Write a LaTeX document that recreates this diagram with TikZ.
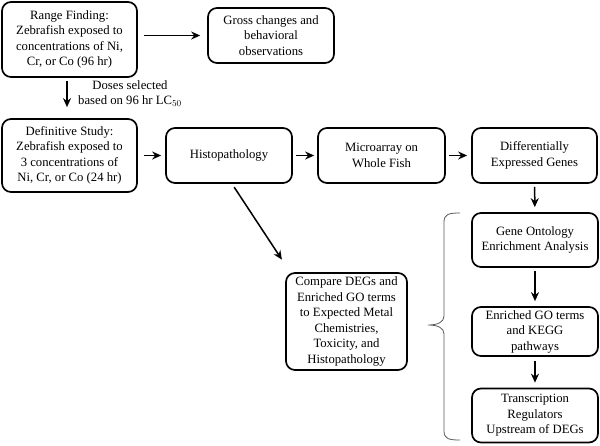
\documentclass[tikz,border=0pt]{standalone}
\usepackage{fontspec}
\setmainfont{Liberation Serif}
\usetikzlibrary{arrows.meta}
\begin{document}
\begin{tikzpicture}[x=1pt,y=-1pt,
  box/.style={draw, line width=1.7pt, rounded corners=9pt, align=center, inner sep=2pt,
    font=\fontsize{12.7}{15.5}\selectfont},
  arr/.style={line width=1.5pt, -{Stealth[length=9pt,width=8pt]}},
  lbl/.style={align=center, font=\fontsize{12.7}{15.5}\selectfont}]
\useasboundingbox (0,0) rectangle (600,445);
\node[box, minimum width=135pt, minimum height=75pt] (range) at (69.5,39.5)
  {Range Finding:\\Zebrafish exposed to\\concentrations of Ni,\\Cr, or Co (96 hr)};
\node[box, minimum width=126pt, minimum height=55pt] (gross) at (271,35.5)
  {Gross changes and\\behavioral\\observations};
\node[box, minimum width=135pt, minimum height=73pt] (def) at (69.5,155.5)
  {Definitive Study:\\Zebrafish exposed to\\3 concentrations of\\Ni, Cr, or Co (24 hr)};
\node[box, minimum width=126pt, minimum height=55pt] (histo) at (229,155.5)
  {Histopathology};
\node[box, minimum width=127pt, minimum height=55pt] (micro) at (381.5,155.5)
  {Microarray on\\Whole Fish};
\node[box, minimum width=125pt, minimum height=55pt] (deg) at (534.5,155.5)
  {Differentially\\Expressed Genes};
\node[box, minimum width=126pt, minimum height=54pt] (go) at (535,240)
  {Gene Ontology\\Enrichment Analysis};
\node[box, minimum width=126pt, minimum height=49pt] (ego) at (535,331.5)
  {Enriched GO terms\\and KEGG\\pathways};
\node[box, minimum width=126pt, minimum height=54pt] (tr) at (535,415.5)
  {Transcription\\Regulators\\Upstream of DEGs};
\node[box, minimum width=121pt, minimum height=97pt] (cmp) at (346.5,321.5)
  {Compare DEGs and\\Enriched GO terms\\to Expected Metal\\Chemistries,\\Toxicity, and\\Histopathology};
\node[lbl] (dose) at (130,93.5) {Doses selected\\based on 96 hr LC$_{50}$};
\draw[arr, shorten <=6pt, shorten >=7pt] (range.east |- gross.west) -- (gross.west);
\draw[arr, shorten <=3pt, shorten >=11pt] ([xshift=-2.5pt]range.south) -- ([xshift=-2.5pt]def.north);
\draw[arr, shorten <=6pt, shorten >=4pt] (def) -- (histo);
\draw[arr, shorten <=3pt, shorten >=3pt] (histo) -- (micro);
\draw[arr, shorten <=3pt, shorten >=4pt] (micro) -- (deg);
\draw[arr, shorten <=3pt, shorten >=5pt] (deg) -- (go);
\draw[arr, shorten <=3pt, shorten >=5pt] (go) -- (ego);
\draw[arr, shorten <=4pt, shorten >=5pt] (ego) -- (tr);
\draw[arr, shorten <=4pt, shorten >=15pt] ([xshift=3pt]histo.south) -- ([xshift=5pt]cmp.north west);
\coordinate (bt) at (460,213);
\coordinate (bb) at (460,440);
\coordinate (btip) at (428,325);
\draw[gray!70!black, line width=0.8pt]
  (bt) .. controls (449,213) and (444,214) .. (444,222) -- (444,316)
  .. controls (444,322) and (438,325) .. (btip)
  .. controls (438,325) and (444,328) .. (444,334) -- (444,431)
  .. controls (444,439) and (449,440) .. (bb);
\end{tikzpicture}
\end{document}
